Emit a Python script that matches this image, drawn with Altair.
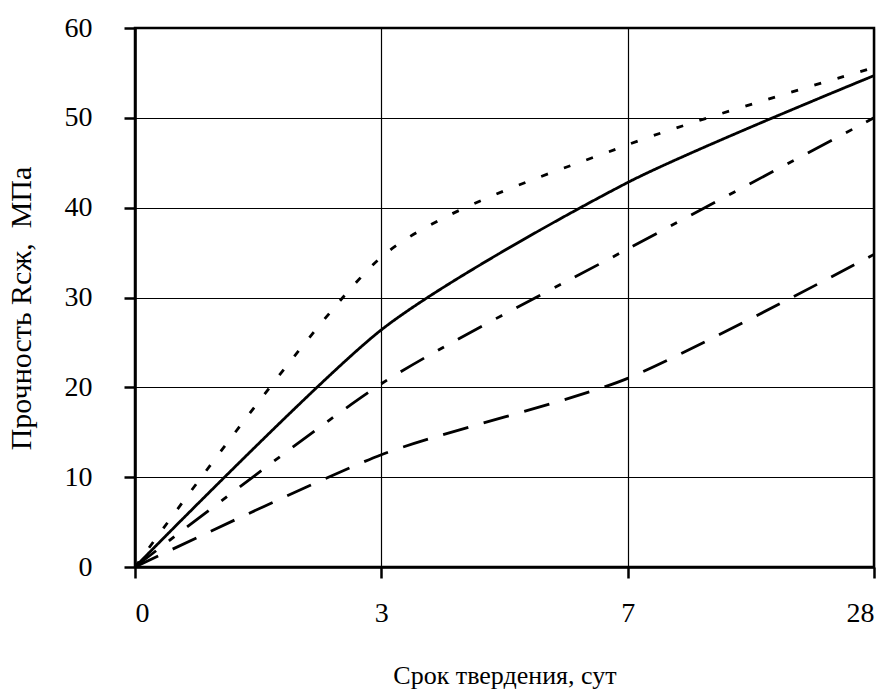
import altair as alt
import pandas as pd

# Data
day_labels = ["0", "3", "7", "28"]
x_index = [0, 1, 2, 3]
series_names = ["s1", "s2", "s3", "s4"]
dotted = [0, 34.5, 47.0, 55.6]
solid = [0, 26.4, 42.8, 54.7]
dashdot = [0, 20.4, 35.4, 50.0]
longdash = [0, 12.5, 21.0, 34.8]
y_ticks = [0, 10, 20, 30, 40, 50, 60]

rows = []
for name, vals in zip(series_names, [dotted, solid, dashdot, longdash]):
    for xi, v in zip(x_index, vals):
        rows.append({"idx": xi, "val": v, "series": name})
df = pd.DataFrame(rows)

label_expr = "[" + ",".join(f"'{d}'" for d in day_labels) + "][datum.value]"

dash_range = [[7, 17], [1, 0], [27, 16, 7, 16], [26, 16]]

chart = alt.Chart(df).mark_line(
    color="black", strokeWidth=2.8, interpolate="cardinal", tension=0.3
).encode(
    x=alt.X(
        "idx:Q",
        scale=alt.Scale(domain=[0, 3], nice=False, zero=False),
        axis=alt.Axis(
            values=x_index,
            labelExpr=label_expr,
            title="Срок твердения, сут",
            labelPadding=21,
            titlePadding=35,
            titleFontSize=26,
        ),
    ),
    y=alt.Y(
        "val:Q",
        scale=alt.Scale(domain=[0, 60], nice=False),
        axis=alt.Axis(
            values=y_ticks,
            title="Прочность Rсж,\u00a0 МПа",
            labelPadding=32,
            titlePadding=28,
            titleFontSize=30,
            titleY=280,
        ),
    ),
    strokeDash=alt.StrokeDash(
        "series:N",
        scale=alt.Scale(domain=series_names, range=dash_range),
        legend=None,
    ),
    detail="series:N",
).properties(
    width=739,
    height=539,
    autosize=alt.AutoSizeParams(type="none"),
    padding={"left": 135, "top": 28, "right": 19, "bottom": 126},
).configure_view(
    stroke="black", strokeWidth=2.5
).configure_axis(
    labelFont="Liberation Serif",
    titleFont="Liberation Serif",
    labelFontSize=28,
    titleFontWeight="normal",
    labelColor="black",
    titleColor="black",
    domainColor="black",
    domainWidth=2.5,
    tickColor="black",
    tickWidth=2.5,
    tickSize=11,
    gridColor="black",
    gridWidth=1.2,
    gridOpacity=1,
    grid=True,
)

chart.save("out.html", embed_options={"renderer": "svg", "actions": False})
